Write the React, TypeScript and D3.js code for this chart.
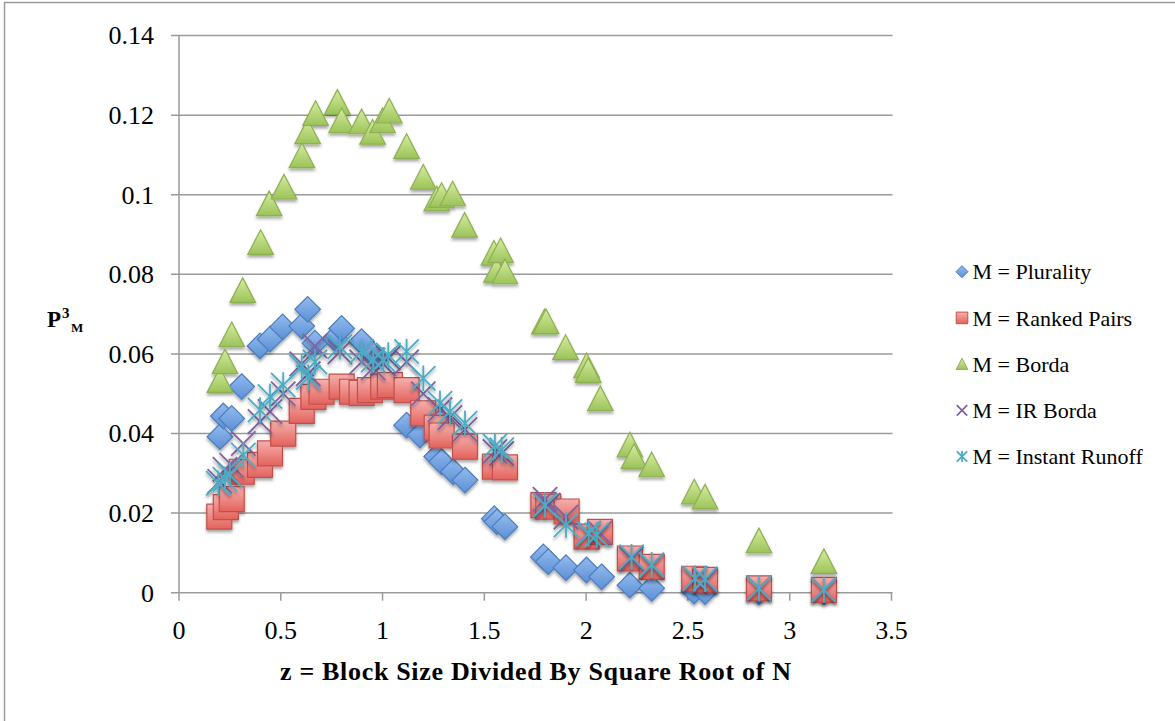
import React, { useRef, useEffect } from 'react';
import * as d3 from 'd3';

// z = block size / sqrt(N), P = P^3_M for each method
const pluralityZ = [0.201, 0.218, 0.259, 0.308, 0.398, 0.447, 0.509, 0.603, 0.632, 0.668, 0.766, 0.799, 0.897, 0.95, 1.118, 1.184, 1.266, 1.29, 1.347, 1.405, 1.549, 1.562, 1.601, 1.79, 1.814, 1.901, 2.002, 2.076, 2.215, 2.322, 2.53, 2.584, 2.849, 3.168];
const pluralityP = [0.0392, 0.0444, 0.0438, 0.0518, 0.062, 0.0637, 0.0668, 0.067, 0.0712, 0.0627, 0.0639, 0.0664, 0.0631, 0.06, 0.0421, 0.0396, 0.0342, 0.0329, 0.0304, 0.0283, 0.0186, 0.0178, 0.0166, 0.009, 0.0078, 0.0063, 0.0057, 0.004, 0.0019, 0.0011, 0.0004, 0.0003, 0.0002, 0.0002];

const rankedPairsZ = [0.198, 0.23, 0.259, 0.308, 0.398, 0.447, 0.512, 0.603, 0.66, 0.7, 0.799, 0.85, 0.897, 0.938, 1.003, 1.036, 1.118, 1.2, 1.266, 1.29, 1.405, 1.552, 1.601, 1.79, 1.814, 1.904, 2.002, 2.068, 2.215, 2.322, 2.531, 2.584, 2.849, 3.168];
const rankedPairsP = [0.0191, 0.0215, 0.0235, 0.0304, 0.0321, 0.035, 0.04, 0.0457, 0.0492, 0.0505, 0.0518, 0.0505, 0.0502, 0.0509, 0.0518, 0.0522, 0.0509, 0.0451, 0.0415, 0.0395, 0.0367, 0.0317, 0.0315, 0.022, 0.0216, 0.0204, 0.0141, 0.0153, 0.0086, 0.0065, 0.0035, 0.0032, 0.0011, 0.0007];

const bordaZ = [0.201, 0.226, 0.259, 0.313, 0.401, 0.443, 0.516, 0.604, 0.632, 0.671, 0.778, 0.799, 0.897, 0.951, 1.0, 1.033, 1.118, 1.2, 1.266, 1.29, 1.344, 1.403, 1.547, 1.56, 1.58, 1.601, 1.795, 1.803, 1.899, 2.002, 2.01, 2.07, 2.215, 2.235, 2.322, 2.531, 2.584, 2.849, 3.168];
const bordaP = [0.0533, 0.058, 0.0648, 0.0759, 0.088, 0.0977, 0.1019, 0.1098, 0.1158, 0.1204, 0.1232, 0.1186, 0.1183, 0.1157, 0.1186, 0.121, 0.1121, 0.1044, 0.0989, 0.0998, 0.1002, 0.0923, 0.0853, 0.081, 0.0859, 0.0806, 0.068, 0.0681, 0.0616, 0.057, 0.0558, 0.0487, 0.0371, 0.0342, 0.0321, 0.0253, 0.024, 0.013, 0.0078];

const irBordaZ = [0.2, 0.226, 0.259, 0.316, 0.398, 0.447, 0.512, 0.603, 0.635, 0.668, 0.79, 0.897, 0.954, 1.003, 1.028, 1.118, 1.2, 1.282, 1.331, 1.405, 1.552, 1.585, 1.798, 1.814, 1.901, 2.012, 2.068, 2.223, 2.322, 2.535, 2.584, 2.849, 3.168];
const irBordaP = [0.028, 0.031, 0.032, 0.0375, 0.043, 0.0455, 0.05, 0.0575, 0.055, 0.062, 0.0605, 0.058, 0.0565, 0.0575, 0.059, 0.058, 0.05, 0.046, 0.044, 0.041, 0.0355, 0.035, 0.0235, 0.022, 0.019, 0.015, 0.015, 0.0085, 0.0068, 0.0035, 0.003, 0.0011, 0.0007];

const instantRunoffZ = [0.193, 0.226, 0.25, 0.316, 0.398, 0.447, 0.512, 0.603, 0.635, 0.668, 0.79, 0.897, 0.954, 1.003, 1.028, 1.118, 1.2, 1.282, 1.331, 1.405, 1.552, 1.585, 1.798, 1.901, 2.012, 2.052, 2.223, 2.322, 2.535, 2.584, 2.849, 3.168];
const instantRunoffP = [0.0275, 0.0285, 0.0296, 0.0346, 0.0459, 0.0493, 0.0522, 0.0568, 0.0541, 0.058, 0.0618, 0.0606, 0.0585, 0.0585, 0.0597, 0.0606, 0.0539, 0.0476, 0.0455, 0.0426, 0.0369, 0.0359, 0.022, 0.017, 0.0149, 0.0145, 0.009, 0.007, 0.0036, 0.0034, 0.0011, 0.0007];

const xTicks = [0, 0.5, 1, 1.5, 2, 2.5, 3, 3.5];
const yTicks = [0, 0.02, 0.04, 0.06, 0.08, 0.1, 0.12, 0.14];
const legendLabels = ['M = Plurality', 'M = Ranked Pairs', 'M = Borda', 'M = IR Borda', 'M = Instant Runoff'];
const shapes = ['diamond', 'square', 'triangle', 'cross', 'star'];

const W = 1175;
const H = 721;
const FONT = '"Liberation Serif", "DejaVu Serif", serif';

// marker path centered on 0,0, r = half size
const markerPath = (shape, r) => {
  if (shape === 'diamond') return `M0,${-r}L${r},0L0,${r}L${-r},0Z`;
  if (shape === 'square') return `M${-r},${-r}H${r}V${r}H${-r}Z`;
  if (shape === 'triangle') return `M0,${-r}L${r},${r * 0.92}L${-r},${r * 0.92}Z`;
  const a = r * 0.95;
  if (shape === 'cross') return `M${-a},${-a}L${a},${a}M${a},${-a}L${-a},${a}`;
  return `M${-a},${-a}L${a},${a}M${a},${-a}L${-a},${a}M0,${-r}V${r}`;
};

const App = () => {
  const svgRef = useRef();

  useEffect(() => {
    const svg = d3.select(svgRef.current);
    svg.selectAll('*').remove();

    const x = d3.scaleLinear().domain([0, 3.5]).range([179, 891.5]);
    const y = d3.scaleLinear().domain([0, 0.14]).range([592.7, 35.6]);

    const defs = svg.append('defs');
    const grads = [
      ['gDiamond', '#94bbee', '#5b8fd6'],
      ['gSquare', '#f6b0ad', '#e3625c'],
      ['gTriangle', '#d6ec9f', '#9cc35a'],
    ];
    grads.forEach(([id, c1, c2]) => {
      const lg = defs.append('linearGradient').attr('id', id).attr('x1', 0).attr('y1', 0).attr('x2', 0).attr('y2', 1);
      lg.append('stop').attr('offset', '0%').attr('stop-color', c1);
      lg.append('stop').attr('offset', '100%').attr('stop-color', c2);
    });
    defs.append('filter').attr('id', 'shadow').attr('x', '-50%').attr('y', '-50%').attr('width', '200%').attr('height', '200%')
      .append('feDropShadow').attr('dx', 0).attr('dy', 2.5).attr('stdDeviation', 1.6)
      .attr('flood-color', '#000').attr('flood-opacity', 0.35);

    const styles = {
      diamond: { fill: 'url(#gDiamond)', stroke: '#4a7ebb', width: 1.2 },
      square: { fill: 'url(#gSquare)', stroke: '#c0504d', width: 1.2 },
      triangle: { fill: 'url(#gTriangle)', stroke: '#8db052', width: 1.2 },
      cross: { fill: 'none', stroke: '#8064a2', width: 1.8 },
      star: { fill: 'none', stroke: '#4bacc6', width: 1.8 },
    };

    // frame
    svg.append('line').attr('x1', 4).attr('x2', W).attr('y1', 2.5).attr('y2', 2.5).attr('stroke', '#9a9a9a').attr('stroke-width', 1.5);
    svg.append('line').attr('x1', 4.5).attr('x2', 4.5).attr('y1', 2).attr('y2', H).attr('stroke', '#9a9a9a').attr('stroke-width', 1.5);

    // gridlines
    svg.append('g').selectAll('line').data(yTicks).join('line')
      .attr('x1', 171).attr('x2', 892.5)
      .attr('y1', (d) => y(d)).attr('y2', (d) => y(d))
      .attr('stroke', '#9a9a9a').attr('stroke-width', 1.5);

    svg.append('line').attr('x1', 179).attr('x2', 179).attr('y1', y(0.14)).attr('y2', y(0))
      .attr('stroke', '#9a9a9a').attr('stroke-width', 1.5);
    svg.append('g').selectAll('line').data(xTicks).join('line')
      .attr('x1', (d) => x(d)).attr('x2', (d) => x(d))
      .attr('y1', y(0)).attr('y2', y(0) + 8)
      .attr('stroke', '#9a9a9a').attr('stroke-width', 1.5);

    svg.append('g').selectAll('text').data(yTicks).join('text')
      .attr('x', 154).attr('y', (d) => y(d) + 8.8)
      .attr('text-anchor', 'end')
      .attr('font-family', FONT).attr('font-size', 26).attr('fill', '#000')
      .text((d) => String(+d.toFixed(2)));

    svg.append('g').selectAll('text').data(xTicks).join('text')
      .attr('x', (d) => x(d)).attr('y', 638.5)
      .attr('text-anchor', 'middle')
      .attr('font-family', FONT).attr('font-size', 26).attr('fill', '#000')
      .text((d) => String(d));

    svg.append('text').attr('x', 535.5).attr('y', 679.5)
      .attr('text-anchor', 'middle')
      .attr('font-family', FONT).attr('font-size', 26).attr('font-weight', 'bold')
      .attr('textLength', 511).attr('lengthAdjust', 'spacing')
      .text('z = Block Size Divided By Square Root of N');

    const yl = svg.append('text').attr('x', 47).attr('y', 326.5)
      .attr('font-family', FONT).attr('font-weight', 'bold').attr('font-size', 23);
    yl.append('tspan').text('P');
    yl.append('tspan').attr('font-size', 15).attr('dy', -8.5).attr('dx', 1).text('3');
    yl.append('tspan').attr('font-size', 13).attr('dy', 14).attr('dx', 1.5).text('M');

    const series = [
      [pluralityZ, pluralityP],
      [rankedPairsZ, rankedPairsP],
      [bordaZ, bordaP],
      [irBordaZ, irBordaP],
      [instantRunoffZ, instantRunoffP],
    ];

    series.forEach(([zs, ps], i) => {
      const shape = shapes[i];
      const st = styles[shape];
      const pts = zs.map((z, j) => ({ z, p: ps[j] }));
      svg.append('g').attr('filter', 'url(#shadow)')
        .selectAll('path').data(pts).join('path')
        .attr('transform', (d) => `translate(${x(d.z)},${y(d.p)})`)
        .attr('d', markerPath(shape, shape === 'square' ? 12.5 : 12.8))
        .attr('fill', st.fill).attr('stroke', st.stroke).attr('stroke-width', st.width);
    });

    const legend = svg.append('g').selectAll('g').data(legendLabels).join('g')
      .attr('transform', (d, i) => `translate(962,${271.7 + i * 46.2})`);
    legend.append('path')
      .attr('d', (d, i) => markerPath(shapes[i], i === 0 ? 6 : i > 2 ? 5.5 : 5.8))
      .attr('fill', (d, i) => styles[shapes[i]].fill)
      .attr('stroke', (d, i) => styles[shapes[i]].stroke)
      .attr('stroke-width', (d, i) => (i > 2 ? 1.8 : 1));
    legend.append('text').attr('x', 10.5).attr('y', 7.6)
      .attr('font-family', FONT).attr('font-size', 22).attr('fill', '#000')
      .text((d) => d);
  }, []);

  return (
    <svg ref={svgRef} width={W} height={H} style={{ position: 'absolute', left: 0, top: 0, background: '#fff' }} />
  );
};

export default App;
